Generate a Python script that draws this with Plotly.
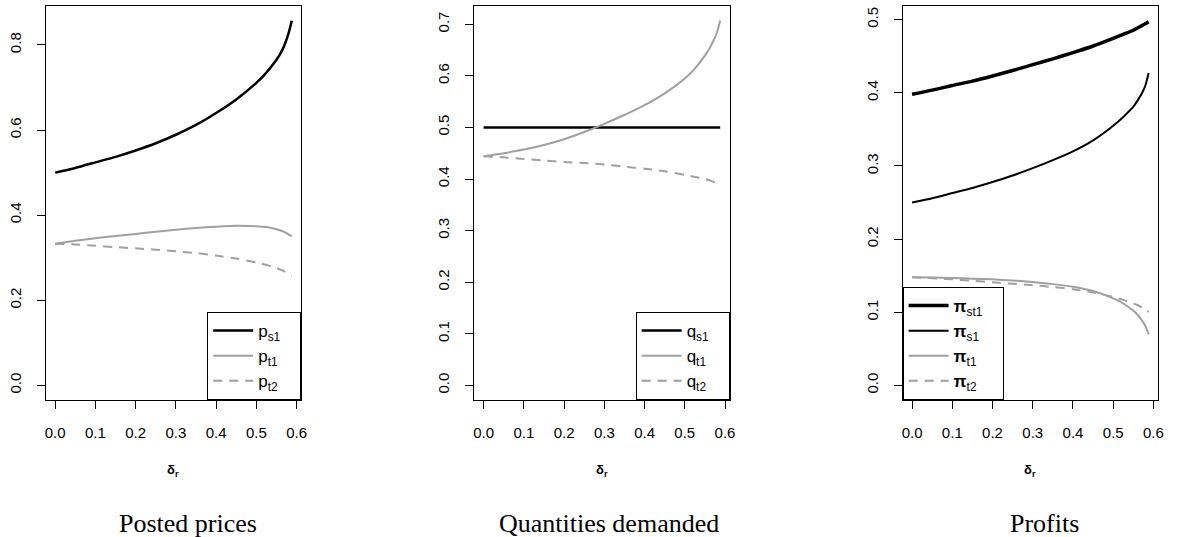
import plotly.graph_objects as go

# Common grid of the deviation parameter delta_r
delta_r = [0.0, 0.05, 0.10, 0.15, 0.20, 0.25, 0.30, 0.35, 0.40, 0.45,
           0.50, 0.525, 0.55, 0.56, 0.57, 0.58, 0.588]

# Posted prices
p_s1 = [0.500, 0.511, 0.524, 0.537, 0.552, 0.569, 0.589, 0.612, 0.640, 0.672,
        0.711, 0.735, 0.765, 0.780, 0.800, 0.827, 0.857]
p_t1 = [0.333, 0.340, 0.346, 0.351, 0.356, 0.361, 0.366, 0.370, 0.373, 0.375,
        0.374, 0.372, 0.367, 0.364, 0.360, 0.355, 0.350]
p_t2 = [0.333, 0.331, 0.328, 0.325, 0.322, 0.319, 0.315, 0.311, 0.305, 0.298,
        0.289, 0.283, 0.276, 0.272, 0.268, 0.263, 0.258]

# Quantities demanded
q_s1 = [0.500] * 17
q_t1 = [0.444, 0.450, 0.457, 0.466, 0.477, 0.491, 0.507, 0.524, 0.543, 0.566,
        0.595, 0.614, 0.639, 0.651, 0.666, 0.684, 0.707]
q_t2 = [0.444, 0.442, 0.439, 0.436, 0.433, 0.431, 0.428, 0.424, 0.420, 0.415,
        0.408, 0.404, 0.400, 0.398, 0.395, 0.392, 0.388]

# Profits
pi_st1 = [0.398, 0.4037, 0.410, 0.416, 0.423, 0.4305, 0.4385, 0.4465, 0.455, 0.464,
          0.4745, 0.480, 0.4855, 0.4885, 0.4915, 0.4945, 0.497]
pi_s1 = [0.250, 0.256, 0.263, 0.270, 0.278, 0.287, 0.297, 0.308, 0.320, 0.335,
         0.355, 0.367, 0.381, 0.389, 0.398, 0.410, 0.427]
pi_t1 = [0.148, 0.1477, 0.147, 0.146, 0.145, 0.1435, 0.1415, 0.1385, 0.135, 0.129,
         0.119, 0.112, 0.102, 0.097, 0.090, 0.081, 0.070]
pi_t2 = [0.148, 0.1465, 0.145, 0.143, 0.141, 0.139, 0.137, 0.1345, 0.1315, 0.127,
         0.121, 0.117, 0.112, 0.110, 0.107, 0.104, 0.1005]

x_ticks = [0.0, 0.1, 0.2, 0.3, 0.4, 0.5, 0.6]
y_ticks_p = [0.0, 0.2, 0.4, 0.6, 0.8]
y_ticks_q = [0.0, 0.1, 0.2, 0.3, 0.4, 0.5, 0.6, 0.7]
y_ticks_pi = [0.0, 0.1, 0.2, 0.3, 0.4, 0.5]
panel_titles = ["Posted prices", "Quantities demanded", "Profits"]

W, H = 1177, 537
BLACK = "#000000"
GREY = "#A0A0A0"
SANS = "Liberation Sans, Arial, sans-serif"
SERIF = "Liberation Serif, Times New Roman, serif"
PAD = "&nbsp;&nbsp;&nbsp;"

fig = go.Figure()


def add_line(x, y, name, color, width, dash, xa, ya, legend):
    fig.add_trace(go.Scatter(
        x=x, y=y, name=name + PAD, mode="lines",
        line=dict(color=color, width=width, dash=dash, shape="spline", smoothing=0.6),
        xaxis=xa, yaxis=ya, legend=legend, showlegend=True, hoverinfo="skip",
    ))


DASH = "9px,7px"

add_line(delta_r, p_s1, "p<sub>s1</sub>", BLACK, 2.5, "solid", "x", "y", "legend")
add_line(delta_r, p_t1, "p<sub>t1</sub>", GREY, 2, "solid", "x", "y", "legend")
add_line(delta_r, p_t2, "p<sub>t2</sub>", GREY, 2, DASH, "x", "y", "legend")

add_line(delta_r, q_s1, "q<sub>s1</sub>", BLACK, 2.5, "solid", "x2", "y2", "legend2")
add_line(delta_r, q_t1, "q<sub>t1</sub>", GREY, 2, "solid", "x2", "y2", "legend2")
add_line(delta_r, q_t2, "q<sub>t2</sub>", GREY, 2, DASH, "x2", "y2", "legend2")

add_line(delta_r, pi_st1, "<b>π</b><sub>st1</sub>", BLACK, 3.5, "solid", "x3", "y3", "legend3")
add_line(delta_r, pi_s1, "<b>π</b><sub>s1</sub>", BLACK, 2, "solid", "x3", "y3", "legend3")
add_line(delta_r, pi_t1, "<b>π</b><sub>t1</sub>", GREY, 2, "solid", "x3", "y3", "legend3")
add_line(delta_r, pi_t2, "<b>π</b><sub>t2</sub>", GREY, 2, DASH, "x3", "y3", "legend3")

# Plot boxes in pixels (left, right) and shared (top, bottom)
boxes_x = [(45, 302), (476, 733), (907, 1164)]
box_top, box_bottom = 6, 400
ydom = [(H - box_bottom) / H, (H - box_top) / H]


def axis_common():
    return dict(
        showline=True, linecolor=BLACK, linewidth=1, mirror=True,
        ticks="outside", ticklen=8, tickwidth=1, tickcolor=BLACK,
        showgrid=False, zeroline=False,
        tickfont=dict(family=SANS, size=15, color=BLACK),
    )


x_range = [-0.0235, 0.6115]
y_ranges = [[-0.0343, 0.8915], [-0.0283, 0.7353], [-0.0199, 0.5187]]
y_tick_sets = [y_ticks_p, y_ticks_q, y_ticks_pi]

layout = dict(
    width=W, height=H, margin=dict(l=0, r=0, t=0, b=0),
    paper_bgcolor="white", plot_bgcolor="white",
    font=dict(family=SANS, color=BLACK),
)

for i, ((l, r), yr, yt) in enumerate(zip(boxes_x, y_ranges, y_tick_sets)):
    sfx = "" if i == 0 else str(i + 1)
    xa = axis_common()
    xa.update(domain=[l / W, r / W], range=x_range, tickvals=x_ticks,
              ticktext=[f"{v:.1f}" for v in x_ticks], anchor="y" + sfx,
              ticklabelstandoff=11)
    ya = axis_common()
    ya.update(domain=ydom, range=yr, tickvals=yt,
              ticktext=[f"{v:.1f}" for v in yt], anchor="x" + sfx,
              tickangle=-90, ticklabelstandoff=10)
    layout["xaxis" + sfx] = xa
    layout["yaxis" + sfx] = ya

legend_style = dict(
    bgcolor="white", bordercolor=BLACK, borderwidth=1,
    font=dict(family=SANS, size=17, color=BLACK),
    itemwidth=40, yanchor="bottom", y=ydom[0], tracegroupgap=0,
)
layout["legend"] = dict(legend_style, x=boxes_x[0][1] / W, xanchor="right")
layout["legend2"] = dict(legend_style, x=boxes_x[1][1] / W, xanchor="right")
layout["legend3"] = dict(legend_style, x=boxes_x[2][0] / W, xanchor="left")

annotations = []
title_centers = [188, 612, 1050]
for (l, r), tc, title in zip(boxes_x, title_centers, panel_titles):
    annotations.append(dict(
        text="<b>δ<sub>r</sub></b>", xref="paper", yref="paper",
        x=(l + r) / 2 / W, y=(H - 470) / H, showarrow=False,
        xanchor="center", yanchor="middle",
        font=dict(family=SANS, size=13, color=BLACK),
    ))
    annotations.append(dict(
        text=title, xref="paper", yref="paper",
        x=tc / W, y=(H - 523) / H, showarrow=False,
        xanchor="center", yanchor="middle",
        font=dict(family=SERIF, size=26, color=BLACK),
    ))
layout["annotations"] = annotations

fig.update_layout(**layout)
fig.write_html("out.html")
